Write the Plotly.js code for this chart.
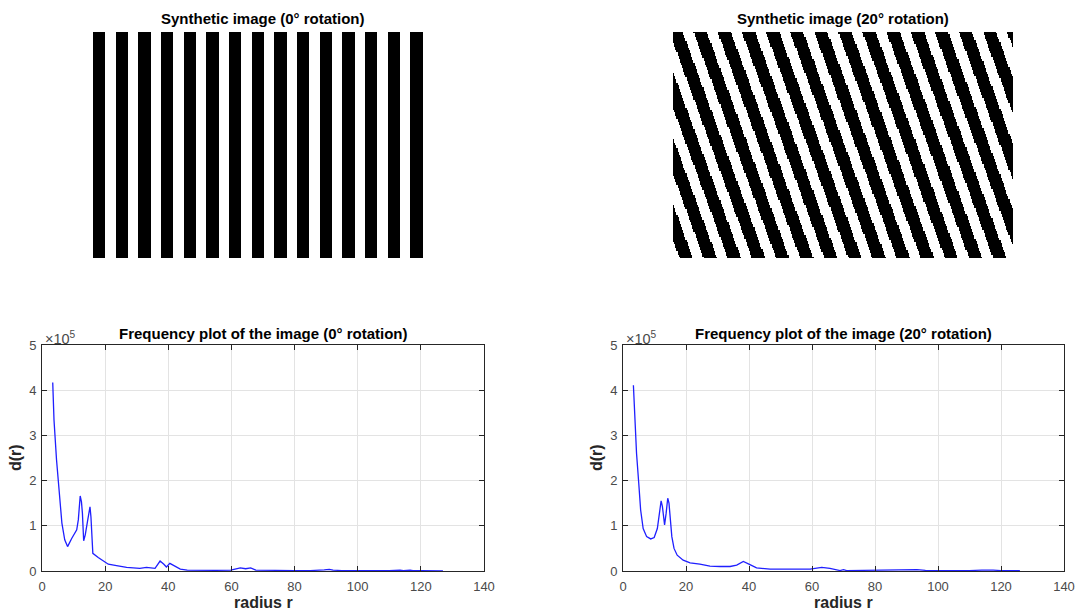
<!DOCTYPE html>
<html>
<head>
<meta charset="utf-8">
<script src="https://cdn.plot.ly/plotly-3.0.1.min.js"></script>
<style>html,body{margin:0;padding:0;background:#fff;}#plot{width:1084px;height:616px;}</style>
</head>
<body>
<div id="plot"></div>
<script>
// ---- Synthetic image parameters (stripe pattern) ----
const imgWidth = 300;
const imgHeight = 200;
const stripePeriod = 20;        // pixels per black+white pair
const blackFraction = 0.55;     // share of each period that is black
const rotationsDeg = [0, 20];   // stripe rotation of each image
const stripePhase = [0, 0.15];  // phase offset of each image (in periods)

// ---- Frequency plot data (0° rotation) ----
const radius0 = [3.4, 3.8, 4.6, 5.5, 6.3, 7.2, 8.1, 9.4, 11.0, 11.5, 12.1, 12.5, 12.8, 13.2, 13.7, 14.4, 15.2, 15.5, 16.1, 17.8, 19.4, 21.0, 23.6, 26.8, 31.0, 33.1, 35.8, 37.4, 38.6, 39.4, 40.5, 41.6, 43.8, 46, 50, 55, 59.8, 62.8, 64.5, 66.1, 67.7, 70.4, 75, 80, 85, 87.8, 89.4, 91, 92.2, 95, 100, 105, 110, 113.4, 114.5, 116.6, 117.5, 120, 124, 127];
const d0 = [417000, 334000, 246000, 164000, 106000, 69000, 54000, 72000, 91000, 113000, 166000, 153000, 128000, 67000, 80000, 109000, 142000, 120000, 39000, 30000, 23000, 15000, 12000, 8000, 6000, 8000, 6000, 22000, 15000, 9000, 17000, 13000, 4000, 2000, 1500, 1500, 2000, 7000, 5000, 7000, 2000, 1500, 1000, 1000, 1000, 3000, 2500, 3500, 2000, 1000, 800, 800, 800, 2000, 800, 2000, 800, 600, 500, 400];

// ---- Frequency plot data (20° rotation) ----
const radius20 = [3.3, 3.5, 3.8, 4.3, 5.0, 5.6, 6.4, 7.5, 8.8, 9.9, 10.9, 11.5, 12.1, 12.5, 12.9, 13.2, 13.7, 14.2, 14.6, 14.9, 15.5, 16.2, 17.2, 19.1, 21.3, 24.4, 27.6, 30.8, 34.0, 36.1, 38.2, 40.3, 42.4, 46.7, 52, 59.4, 63.1, 65.7, 68.9, 70.0, 71, 75, 80, 85.7, 89, 93.3, 96, 100, 105, 110, 113.9, 115.5, 117.5, 120, 122.5, 124, 126];
const d20 = [411000, 375000, 327000, 260000, 194000, 135000, 94000, 76000, 71000, 74000, 94000, 128000, 155000, 143000, 109000, 102000, 128000, 161000, 150000, 120000, 76000, 50000, 35000, 24000, 18000, 15000, 11000, 10000, 10000, 13000, 21000, 14000, 7000, 4000, 4000, 4000, 8000, 6000, 1000, 3000, 1000, 1500, 1500, 3000, 3000, 3000, 1500, 1200, 1000, 1000, 2000, 2500, 2000, 1000, 1000, 1500, 500];

// ---- Axis ticks / labels ----
const xTicks = [0, 20, 40, 60, 80, 100, 120, 140];
const yTickVals = [0, 100000, 200000, 300000, 400000, 500000];
const yTickText = ['0', '1', '2', '3', '4', '5'];
const imageTitles = ['Synthetic image (0° rotation)', 'Synthetic image (20° rotation)'];
const plotTitles = ['Frequency plot of the image (0° rotation)', 'Frequency plot of the image (20° rotation)'];

function stripeImage(deg, phase) {
  const a = deg * Math.PI / 180, c = Math.cos(a), s = Math.sin(a);
  const z = [];
  for (let y = 0; y < imgHeight; y++) {
    const row = [];
    for (let x = 0; x < imgWidth; x++) {
      let t = ((x + 0.5) * c - (y + 0.5) * s) / stripePeriod + phase;
      t = t - Math.floor(t);
      row.push(t < blackFraction ? 0 : 1);
    }
    z.push(row);
  }
  return z;
}

const W = 1084, H = 616;
const px = v => v / W;
const py = v => (H - v) / H;

const FONT = '"Liberation Sans", Arial, Helvetica, sans-serif';
const AX = '#262626';
const TICKC = '#4a4a4a';

const traces = [
  {type: 'scatter', mode: 'lines', x: radius0, y: d0, xaxis: 'x', yaxis: 'y',
   line: {color: '#1f1fff', width: 1.3}, hoverinfo: 'x+y'},
  {type: 'scatter', mode: 'lines', x: radius20, y: d20, xaxis: 'x2', yaxis: 'y2',
   line: {color: '#1f1fff', width: 1.3}, hoverinfo: 'x+y'},
  {type: 'heatmap', z: stripeImage(rotationsDeg[0], stripePhase[0]), xaxis: 'x3', yaxis: 'y3',
   colorscale: [[0, '#000000'], [1, '#ffffff']], zmin: 0, zmax: 1, showscale: false, zsmooth: false, hoverinfo: 'skip'},
  {type: 'heatmap', z: stripeImage(rotationsDeg[1], stripePhase[1]), xaxis: 'x4', yaxis: 'y4',
   colorscale: [[0, '#000000'], [1, '#ffffff']], zmin: 0, zmax: 1, showscale: false, zsmooth: false, hoverinfo: 'skip'}
];

function xAx(domain, anchor) {
  return {domain: domain, anchor: anchor, range: [0, 140], tickvals: xTicks,
    showline: true, linecolor: AX, linewidth: 1, mirror: 'ticks',
    ticks: 'inside', ticklen: 5, tickcolor: AX, tickwidth: 1,
    showgrid: true, gridcolor: '#e3e3e3', gridwidth: 1, zeroline: false,
    tickfont: {family: FONT, size: 13, color: TICKC}, ticklabelstandoff: 3, fixedrange: true};
}
function yAx(domain, anchor) {
  return {domain: domain, anchor: anchor, range: [0, 500000], tickvals: yTickVals, ticktext: yTickText,
    showline: true, linecolor: AX, linewidth: 1, mirror: 'ticks',
    ticks: 'inside', ticklen: 5, tickcolor: AX, tickwidth: 1,
    showgrid: true, gridcolor: '#e3e3e3', gridwidth: 1, zeroline: false,
    tickfont: {family: FONT, size: 13, color: TICKC}, ticklabelstandoff: 2, fixedrange: true};
}
function imgAx(domain, anchor, range) {
  return {domain: domain, anchor: anchor, range: range, visible: false, fixedrange: true};
}

const plotY = [py(571), py(345)];
const imgY = [py(258), py(32)];
const leftPlotX = [px(42), px(484)];
const rightPlotX = [px(623), px(1064)];
const leftImgX = [px(93), px(433)];
const rightImgX = [px(673), px(1013)];

const annotations = [];
function ann(text, xpx, ypx, opts) {
  annotations.push(Object.assign({text: text, xref: 'paper', yref: 'paper', x: px(xpx), y: py(ypx),
    xanchor: 'center', yanchor: 'middle', showarrow: false,
    font: {family: FONT, size: 15, color: '#000'}}, opts || {}));
}
ann('<b>' + imageTitles[0] + '</b>', 263, 18);
ann('<b>' + imageTitles[1] + '</b>', 843, 18);
ann('<b>' + plotTitles[0] + '</b>', 263, 333);
ann('<b>' + plotTitles[1] + '</b>', 843.5, 333);
ann('<b>d(r)</b>', 16, 458, {textangle: -90, font: {family: FONT, size: 16, color: '#262626'}});
ann('<b>d(r)</b>', 597, 458, {textangle: -90, font: {family: FONT, size: 16, color: '#262626'}});
ann('<b>radius r</b>', 263, 602, {font: {family: FONT, size: 16, color: '#262626'}});
ann('<b>radius r</b>', 843.5, 602, {font: {family: FONT, size: 16, color: '#262626'}});
ann('×10<sup>5</sup>', 43, 338, {xanchor: 'left', font: {family: FONT, size: 14.5, color: TICKC}});
ann('×10<sup>5</sup>', 624, 338, {xanchor: 'left', font: {family: FONT, size: 14.5, color: TICKC}});

const layout = {
  width: W, height: H,
  margin: {l: 0, r: 0, t: 0, b: 0},
  paper_bgcolor: '#ffffff', plot_bgcolor: '#ffffff',
  showlegend: false,
  font: {family: FONT},
  xaxis: xAx(leftPlotX, 'y'),
  yaxis: yAx(plotY, 'x'),
  xaxis2: xAx(rightPlotX, 'y2'),
  yaxis2: yAx(plotY, 'x2'),
  xaxis3: imgAx(leftImgX, 'y3', [-0.5, imgWidth - 0.5]),
  yaxis3: imgAx(imgY, 'x3', [imgHeight - 0.5, -0.5]),
  xaxis4: imgAx(rightImgX, 'y4', [-0.5, imgWidth - 0.5]),
  yaxis4: imgAx(imgY, 'x4', [imgHeight - 0.5, -0.5]),
  annotations: annotations
};

Plotly.newPlot('plot', traces, layout, {displayModeBar: false, staticPlot: true});
</script>
</body>
</html>
